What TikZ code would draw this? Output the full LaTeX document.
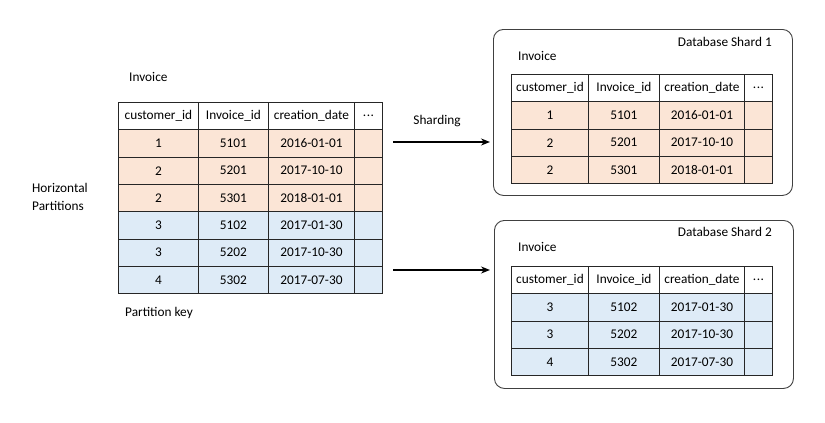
\documentclass[tikz,border=0pt]{standalone}
\usepackage{fontspec}
\setmainfont{Carlito}
\usetikzlibrary{positioning,arrows.meta}
\definecolor{peach}{HTML}{FBE5D6}
\definecolor{paleblue}{HTML}{DEEBF7}
\definecolor{gridline}{HTML}{262626}
\newcommand{\moredots}{.\kern0.5pt.\kern0.5pt.}
\tikzset{
    txt/.style={font=\fontsize{13.3}{18}\selectfont, inner sep=0pt},
    cell/.style={txt, draw=gridline, line width=0.9pt, minimum height=27.3pt, anchor=north west},
    shardbox/.style={draw=black!75, line width=0.9pt, rounded corners=10pt, minimum width=299pt, minimum height=166pt, anchor=north west},
    arr/.style={line width=1.5pt, -{Stealth[length=9pt,width=7pt]}},
}
\begin{document}
\begin{tikzpicture}[x=1pt,y=-1pt]
    \useasboundingbox (0,0) rectangle (825,423);

    % partitioned table
    \node[txt, anchor=west] (inv) at (129,77) {Invoice};
    \foreach \r/\fc/\a/\b/\c/\d in {0/white/customer\_id/Invoice\_id/creation\_date/\moredots,
        1/peach/1/5101/2016-01-01/\strut, 2/peach/2/5201/2017-10-10/\strut, 3/peach/2/5301/2018-01-01/\strut,
        4/paleblue/3/5102/2017-01-30/\strut, 5/paleblue/3/5202/2017-10-30/\strut, 6/paleblue/4/5302/2017-07-30/\strut}{
        \node[cell, fill=\fc, minimum width=80pt] (L\r a) at (118,{102+27.3*\r}) {\a};
        \node[cell, fill=\fc, minimum width=70pt] (L\r b) at (198,{102+27.3*\r}) {\b};
        \node[cell, fill=\fc, minimum width=86pt] (L\r c) at (268,{102+27.3*\r}) {\c};
        \node[cell, fill=\fc, minimum width=28pt] (L\r d) at (354,{102+27.3*\r}) {\d};
    }
    \node[txt, anchor=west, align=left] (hp) at (32,197) {Horizontal\\Partitions};
    \node[txt, anchor=west] (pk) at (125,313) {Partition key};

    % shard 1
    \node[shardbox] (shA) at (493,29) {};
    \node[txt, anchor=east] (shAt) at (772,42) {Database Shard 1};
    \node[txt, anchor=west] (invA) at (518,56) {Invoice};
    \foreach \r/\fc/\a/\b/\c/\d in {0/white/customer\_id/Invoice\_id/creation\_date/\moredots,
        1/peach/1/5101/2016-01-01/\strut, 2/peach/2/5201/2017-10-10/\strut, 3/peach/2/5301/2018-01-01/\strut}{
        \node[cell, fill=\fc, minimum width=77pt] (A\r a) at (511,{74+27.3*\r}) {\a};
        \node[cell, fill=\fc, minimum width=71pt] (A\r b) at (588,{74+27.3*\r}) {\b};
        \node[cell, fill=\fc, minimum width=85pt] (A\r c) at (659,{74+27.3*\r}) {\c};
        \node[cell, fill=\fc, minimum width=28pt] (A\r d) at (744,{74+27.3*\r}) {\d};
    }

    % shard 2
    \node[shardbox, minimum height=168pt] (shB) at (494,220) {};
    \node[txt, anchor=east] (shBt) at (772,232) {Database Shard 2};
    \node[txt, anchor=west] (invB) at (518,247) {Invoice};
    \foreach \r/\fc/\a/\b/\c/\d in {0/white/customer\_id/Invoice\_id/creation\_date/\moredots,
        1/paleblue/3/5102/2017-01-30/\strut, 2/paleblue/3/5202/2017-10-30/\strut, 3/paleblue/4/5302/2017-07-30/\strut}{
        \node[cell, fill=\fc, minimum width=77pt] (B\r a) at (511,{266+27.3*\r}) {\a};
        \node[cell, fill=\fc, minimum width=71pt] (B\r b) at (588,{266+27.3*\r}) {\b};
        \node[cell, fill=\fc, minimum width=85pt] (B\r c) at (659,{266+27.3*\r}) {\c};
        \node[cell, fill=\fc, minimum width=28pt] (B\r d) at (744,{266+27.3*\r}) {\d};
    }

    % arrows
    \node[txt] (shd) at (437,121) {Sharding};
    \coordinate (s1) at (393,142);
    \coordinate (t1) at (490,142);
    \coordinate (s2) at (393,270);
    \coordinate (t2) at (490,270);
    \draw[arr] (s1) -- (t1);
    \draw[arr] (s2) -- (t2);
\end{tikzpicture}
\end{document}
